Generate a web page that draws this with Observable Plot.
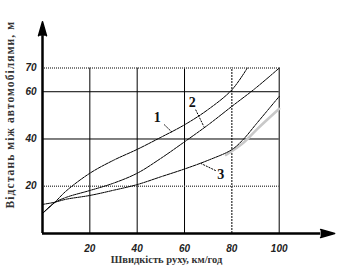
<!DOCTYPE html>
<html><head><meta charset="utf-8">
<script src="https://cdn.jsdelivr.net/npm/d3@7"></script>
<script src="https://cdn.jsdelivr.net/npm/@observablehq/plot@0.6"></script>
<style>body{margin:0;background:#fff}</style></head>
<body><div id="chart"></div>
<script>
// Data
const speed1 = [0, 5, 10, 20, 30, 40, 50, 60, 70, 80, 86.5];
const curve1 = [8.5, 13, 18, 25.5, 31, 35.6, 40.7, 46, 52.5, 60.8, 70];
const speed2 = [0, 5, 10, 20, 30, 40, 50, 60, 70, 80, 90, 100];
const curve2 = [8.5, 13, 15.3, 18.2, 21.3, 25.5, 31.8, 38.8, 46, 53.8, 61.5, 70];
const speed3 = [0, 5, 10, 20, 30, 40, 50, 60, 70, 80, 85, 90, 95, 100];
const curve3 = [12.3, 13.2, 14.5, 16.1, 18.3, 20.7, 24, 27.3, 31, 35.5, 40, 46, 52, 58];
const speedGrey = [77.5, 85, 90.8, 100];
const curveGrey = [33.2, 38.5, 44.3, 52.8];

const xTicks = [20, 40, 60, 80, 100];
const yTicks = [20, 40, 60, 70];
const xGridSolid = [20, 40, 60, 100];
const xGridDashed = [80];
const yGridSolid = [40, 60];
const yGridDotted = [20, 70];

const curveLabels = ["1", "2", "3"];
const labelX = [48.5, 63.3, 75.3];
const labelY = [49.2, 55.5, 25];
const leadX1 = [51.4, 64.7, 73.2], leadY1 = [46.1, 52.4, 26.6];
const leadX2 = [55, 68.2, 66.8], leadY2 = [42.6, 45.2, 29.7];

const xTitle = "Швидкість руху, км/год";
const yTitle = "Відстань між автомобілями, м";
const xAxisEnd = 117.5, yAxisEnd = 83.7;

const toPts = (xs, ys) => xs.map((x, i) => ({x, y: ys[i]}));
const labels = curveLabels.map((t, i) => ({t, x: labelX[i], y: labelY[i]}));
const leaders = curveLabels.map((t, i) => ({x1: leadX1[i], y1: leadY1[i], x2: leadX2[i], y2: leadY2[i]}));

const tickFont = {fontFamily: "Liberation Sans", fontStyle: "italic", fontWeight: "bold", fontSize: 10, fill: "#222"};
const serif = "Liberation Serif";
const dash = {stroke: "#000", strokeWidth: 1, strokeDasharray: "3,1"};

const chart = Plot.plot({
  width: 354, height: 271,
  marginLeft: 42, marginRight: 75.3, marginTop: 67.6, marginBottom: 38,
  x: {domain: [0, 100], axis: null},
  y: {domain: [0, 70], axis: null},
  marks: [
    Plot.ruleX(xGridSolid, {x: d => d, y1: 0, y2: 70, stroke: "#000", strokeWidth: 1}),
    Plot.ruleX(xGridDashed, {x: d => d, y1: 0, y2: 70, stroke: "#000", strokeWidth: 1, strokeDasharray: "2,1"}),
    Plot.ruleY(yGridSolid, {y: d => d, x1: 0, x2: 100, stroke: "#000", strokeWidth: 1}),
    Plot.ruleY(yGridDotted, {y: d => d, x1: 0, x2: 100, stroke: "#555", strokeWidth: 1.5, strokeDasharray: "1,1"}),
    Plot.line(toPts(speedGrey, curveGrey), {x: "x", y: "y", stroke: "#c8c8c8", strokeWidth: 2.5, curve: "catmull-rom"}),
    Plot.line(toPts(speed1, curve1), {x: "x", y: "y", ...dash, curve: "catmull-rom"}),
    Plot.line(toPts(speed2, curve2), {x: "x", y: "y", ...dash, curve: "catmull-rom"}),
    Plot.line(toPts(speed3, curve3), {x: "x", y: "y", ...dash, curve: "catmull-rom"}),
    Plot.link(leaders, {x1: "x1", y1: "y1", x2: "x2", y2: "y2", stroke: "#000", strokeWidth: 1, strokeDasharray: "2,1"}),
    Plot.text(labels, {x: "x", y: "y", text: "t", fontFamily: serif, fontSize: 14, fontWeight: "bold", fill: "#111"}),
    Plot.ruleX([0], {y1: 0, y2: yAxisEnd, stroke: "#000", strokeWidth: 2.5}),
    Plot.ruleY([0], {x1: 0, x2: xAxisEnd, stroke: "#000", strokeWidth: 2.5}),
    Plot.vector([{x: 0, y: yAxisEnd, r: 0}, {x: xAxisEnd, y: 0, r: 90}],
      {x: "x", y: "y", rotate: "r", length: 14, shape: "spike", r: 4, anchor: "start", fill: "#000", stroke: "#000"}),
    Plot.text(xTicks, {x: d => d, y: 0, dy: 15, ...tickFont}),
    Plot.text(yTicks, {x: 0, y: d => d, dx: -6, textAnchor: "end", ...tickFont}),
    Plot.text([xTitle], {x: 52.4, y: 0, dy: 26, text: d => d, fontFamily: serif, fontSize: 10.5, fontWeight: "bold", fill: "#333"}),
    Plot.text([yTitle], {x: 0, y: 50.3, dx: -32, rotate: -90, text: d => d, fontFamily: serif, fontSize: 11.5, fontWeight: "bold", fill: "#333"})
  ]
});
d3.select(chart).selectAll("text").filter(function() { return this.textContent === yTitle; })
  .style("letter-spacing", "1.1px");
document.getElementById("chart").appendChild(chart);
</script>
</body></html>
